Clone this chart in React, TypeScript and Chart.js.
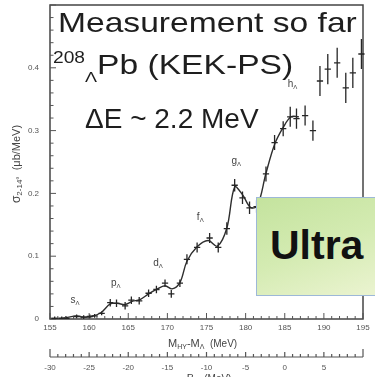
import React, { useEffect, useRef } from "react";
import { Chart, registerables } from "chart.js";

Chart.register(...registerables);

// Missing-mass spectrum of the (pi+, K+) reaction on 208Pb
const massMeV = [
  155.6, 156.5, 157.1, 158.4, 159.3, 160.1, 160.7, 161.6,
  162.7, 163.5, 164.6, 165.4, 166.4, 167.6, 168.6, 169.7, 170.5, 171.6,
  172.5, 173.8, 175.4, 176.5,
  177.6, 178.6, 179.6, 180.5, 181.4,
  182.6, 183.7, 184.8,
  185.7, 186.5, 187.6, 188.6,
  189.5, 190.5, 191.7, 192.8, 193.7, 194.8,
];
const crossSection = [
  0.001, 0.001, 0.001, 0.004, 0.003, 0.004, 0.005, 0.009,
  0.026, 0.025, 0.021, 0.03, 0.029, 0.041, 0.047, 0.057, 0.04, 0.057,
  0.095, 0.114, 0.129, 0.114,
  0.144, 0.213, 0.193, 0.177, 0.179,
  0.231, 0.281, 0.303,
  0.322, 0.319, 0.324, 0.3,
  0.379, 0.398, 0.408, 0.368, 0.392, 0.422,
];
const crossSectionErr = [
  0.003, 0.003, 0.003, 0.003, 0.003, 0.003, 0.003, 0.003,
  0.006, 0.006, 0.006, 0.006, 0.006, 0.006, 0.006, 0.006, 0.006, 0.006,
  0.008, 0.008, 0.008, 0.008,
  0.01, 0.01, 0.01, 0.01, 0.01,
  0.012, 0.012, 0.012,
  0.016, 0.016, 0.016, 0.016,
  0.024, 0.024, 0.024, 0.024, 0.024, 0.024,
];
const BIN_HALF_WIDTH = 0.4;

// Fitted curve through the spectrum
const fitMass = [
  155, 156, 157, 158.4, 159.3, 160.3, 161.5, 162.7, 163.6, 164.6, 165.5,
  166.5, 167.6, 168.6, 169.7, 170.6, 171.6, 172.5, 173.8, 175.2, 176.4,
  177.6, 178.6, 179.6, 180.6, 181.5, 182.6, 183.7, 184.8, 185.8, 186.8,
];
const fitCurve = [
  0.001, 0.001, 0.002, 0.005, 0.003, 0.004, 0.01, 0.024, 0.025, 0.023, 0.028,
  0.031, 0.04, 0.047, 0.053, 0.048, 0.058, 0.092, 0.115, 0.125, 0.116,
  0.145, 0.21, 0.198, 0.178, 0.18, 0.232, 0.278, 0.305, 0.322, 0.322,
];

// Lambda single-particle shells
const shellNames = ["s", "p", "d", "f", "g", "h"];
const shellMass = [158.2, 163.4, 168.8, 174.2, 178.8, 186.0];
const shellHeight = [0.03, 0.057, 0.089, 0.163, 0.252, 0.375];

const bindingTicks = [-30, -25, -20, -15, -10, -5, 0, 5];

const FONT = '"Liberation Sans", Arial, Helvetica, sans-serif';
const INK = "#2e2e2e";
const LABEL = "#555";

type Part = { t: string; size: number; dy?: number };

function drawParts(ctx: CanvasRenderingContext2D, parts: Part[], x: number, y: number) {
  let cx = x;
  for (const p of parts) {
    ctx.font = `${p.size}px ${FONT}`;
    ctx.fillText(p.t, cx, y + (p.dy || 0));
    cx += ctx.measureText(p.t).width;
  }
  return cx - x;
}

function partsWidth(ctx: CanvasRenderingContext2D, parts: Part[]) {
  let w = 0;
  for (const p of parts) {
    ctx.font = `${p.size}px ${FONT}`;
    w += ctx.measureText(p.t).width;
  }
  return w;
}

const spectrumDecor = {
  id: "spectrumDecor",
  afterDatasetsDraw(chart: any) {
    const { ctx, chartArea: a, scales } = chart;
    const x = scales.x;
    const y = scales.y;
    const x2 = scales.x2;
    ctx.save();

    // frame
    ctx.strokeStyle = "#444";
    ctx.lineWidth = 1.5;
    ctx.strokeRect(a.left, a.top, a.right - a.left, a.bottom - a.top);

    // inward ticks
    ctx.lineWidth = 1;
    ctx.strokeStyle = "#555";
    ctx.beginPath();
    for (let k = 0; k <= 25; k++) {
      const py = y.getPixelForValue(k * 0.02);
      const len = k % 5 === 0 ? 6 : 3.5;
      ctx.moveTo(a.left, py);
      ctx.lineTo(a.left + len, py);
    }
    for (let m = 155; m <= 195; m++) {
      const px = x.getPixelForValue(m);
      const len = m % 5 === 0 ? 6 : 3;
      ctx.moveTo(px, a.bottom);
      ctx.lineTo(px, a.bottom - len);
    }
    ctx.stroke();

    // data points with error bars
    ctx.strokeStyle = "#262626";
    ctx.lineWidth = 1.3;
    ctx.beginPath();
    massMeV.forEach((m, i) => {
      const px = x.getPixelForValue(m);
      const py = y.getPixelForValue(crossSection[i]);
      const top = y.getPixelForValue(crossSection[i] + crossSectionErr[i]);
      const bot = y.getPixelForValue(Math.max(0, crossSection[i] - crossSectionErr[i]));
      const l = x.getPixelForValue(m - BIN_HALF_WIDTH);
      const r = x.getPixelForValue(m + BIN_HALF_WIDTH);
      ctx.moveTo(px, top);
      ctx.lineTo(px, bot);
      ctx.moveTo(l, py);
      ctx.lineTo(r, py);
    });
    ctx.stroke();

    // shell labels
    ctx.fillStyle = "#444";
    ctx.textBaseline = "alphabetic";
    ctx.textAlign = "left";
    shellNames.forEach((n, i) => {
      const parts: Part[] = [
        { t: n, size: 10 },
        { t: "\u039B", size: 6, dy: 2 },
      ];
      const w = partsWidth(ctx, parts);
      const px = x.getPixelForValue(shellMass[i]) - w / 2;
      const py = y.getPixelForValue(shellHeight[i]) + 3;
      drawParts(ctx, parts, px, py);
    });

    // x-axis title
    ctx.fillStyle = "#444";
    drawParts(
      ctx,
      [
        { t: "M", size: 11 },
        { t: "HY", size: 7, dy: 2 },
        { t: "-M", size: 11 },
        { t: "\u039B", size: 7, dy: 2 },
        { t: "  (MeV)", size: 10 },
      ],
      168,
      347,
    );

    // y-axis title (rotated)
    const yt: Part[] = [
      { t: "\u03C3", size: 12 },
      { t: "2-14\u00B0", size: 8, dy: 2 },
      { t: "  (\u03BCb/MeV)", size: 11 },
    ];
    const ytw = partsWidth(ctx, yt);
    ctx.save();
    ctx.translate(20, 164 + ytw / 2);
    ctx.rotate(-Math.PI / 2);
    drawParts(ctx, yt, 0, 0);
    ctx.restore();

    // binding-energy axis
    const axisY = 357;
    const bl = x2.getPixelForValue(x2.min);
    const br = x2.getPixelForValue(x2.max);
    ctx.strokeStyle = "#555";
    ctx.lineWidth = 1.2;
    ctx.beginPath();
    ctx.moveTo(bl, axisY);
    ctx.lineTo(br, axisY);
    for (let b = x2.min; b <= x2.max; b++) {
      const px = x2.getPixelForValue(b);
      const end = b === x2.min || b === x2.max;
      const len = end ? 8 : b % 5 === 0 ? 5 : 3;
      ctx.moveTo(px, axisY);
      ctx.lineTo(px, axisY - len);
    }
    ctx.stroke();
    ctx.fillStyle = LABEL;
    ctx.font = `8px ${FONT}`;
    ctx.textAlign = "center";
    ctx.textBaseline = "middle";
    bindingTicks.forEach((b) => {
      ctx.fillText(String(b), x2.getPixelForValue(b), 368);
    });

    ctx.textAlign = "left";
    ctx.textBaseline = "alphabetic";
    ctx.fillStyle = "#444";
    drawParts(
      ctx,
      [
        { t: "-B", size: 11 },
        { t: "\u039B", size: 7, dy: 2 },
        { t: "  (MeV)", size: 10 },
      ],
      183,
      382,
    );

    ctx.restore();
  },
};

export default function App() {
  const canvasRef = useRef<HTMLCanvasElement | null>(null);

  useEffect(() => {
    document.body.style.margin = "0";
    const canvas = canvasRef.current;
    if (!canvas) return;
    const chart = new Chart(canvas, {
      type: "scatter",
      data: {
        datasets: [
          {
            type: "line",
            data: fitMass.map((m, i) => ({ x: m, y: fitCurve[i] })),
            borderColor: INK,
            borderWidth: 1.4,
            pointRadius: 0,
            tension: 0.35,
            fill: false,
          } as any,
          {
            type: "scatter",
            data: massMeV.map((m, i) => ({ x: m, y: crossSection[i] })),
            pointRadius: 0,
            showLine: false,
          },
        ],
      },
      options: {
        responsive: false,
        animation: false,
        devicePixelRatio: 1,
        layout: { padding: { top: 5, right: 12, left: 0, bottom: 0 } },
        plugins: { legend: { display: false }, tooltip: { enabled: false } },
        scales: {
          x: {
            type: "linear",
            position: "bottom",
            min: 155,
            max: 195,
            grid: { display: false, drawTicks: false },
            border: { display: false },
            ticks: {
              stepSize: 5,
              padding: 4,
              maxRotation: 0,
              autoSkip: false,
              color: LABEL,
              font: { size: 8, family: FONT },
            },
            afterFit: (s: any) => {
              s.height = 58;
              s.paddingLeft = 0;
              s.paddingRight = 0;
            },
          },
          x2: {
            type: "linear",
            position: "bottom",
            min: -30,
            max: 10,
            display: false,
          },
          y: {
            type: "linear",
            min: 0,
            max: 0.5,
            grid: { display: false, drawTicks: false },
            border: { display: false },
            ticks: {
              stepSize: 0.1,
              padding: 11,
              color: LABEL,
              font: { size: 8, family: FONT },
              callback: (v: any) => {
                const n = Number(Number(v).toFixed(1));
                if (n >= 0.5) return "";
                return n === 0 ? "0" : n.toFixed(1);
              },
            },
            afterFit: (s: any) => {
              s.width = 50;
              s.paddingTop = 0;
              s.paddingBottom = 0;
            },
          },
        },
      },
      plugins: [spectrumDecor],
    });
    return () => chart.destroy();
  }, []);

  const line: React.CSSProperties = {
    position: "absolute",
    whiteSpace: "nowrap",
    lineHeight: 1,
    color: "#1e1e1e",
    fontFamily: FONT,
    transformOrigin: "0 0",
  };

  return (
    <div
      style={{
        position: "relative",
        width: 375,
        height: 377,
        overflow: "hidden",
        background: "#fff",
        fontFamily: FONT,
      }}
    >
      <canvas
        ref={canvasRef}
        width={375}
        height={377}
        style={{ position: "absolute", left: 0, top: 0, width: 375, height: 377, filter: "blur(0.5px)" }}
      />
      <div style={{ ...line, left: 58, top: 9, fontSize: 28, transform: "scaleX(1.2)" }}>
        Measurement so far
      </div>
      <div style={{ ...line, left: 53, top: 51, fontSize: 28, transform: "scaleX(1.2)" }}>
        <span style={{ fontSize: 16, position: "relative", top: -11 }}>208</span>
        <span style={{ fontSize: 15, position: "relative", top: 8 }}>{"\u039B"}</span>
        Pb (KEK-PS)
      </div>
      <div style={{ ...line, left: 85, top: 105, fontSize: 28 }}>
        {"\u0394E ~ 2.2 MeV"}
      </div>
      <div
        style={{
          position: "absolute",
          left: 256,
          top: 197,
          width: 130,
          height: 99,
          boxSizing: "border-box",
          border: "1.5px solid #9db8d8",
          background: "linear-gradient(160deg, #c4e39e 0%, #d4ebb2 50%, #ecf4d2 100%)",
        }}
      >
        <div
          style={{
            position: "absolute",
            left: 13,
            top: 27,
            fontSize: 41,
            fontWeight: 700,
            lineHeight: 1,
            color: "#111",
            fontFamily: FONT,
          }}
        >
          Ultra
        </div>
      </div>
    </div>
  );
}
